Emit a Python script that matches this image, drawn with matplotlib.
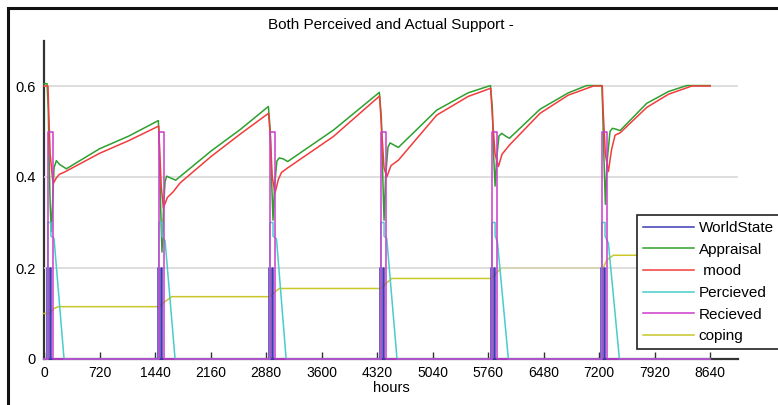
import matplotlib
matplotlib.use("Agg")
import matplotlib.pyplot as plt
from matplotlib.patches import Rectangle

# ---- series data (hours, value) ----
world_t = [0, 38, 38, 48, 48, 78, 78, 88, 88,
           1478, 1478, 1488, 1488, 1518, 1518, 1528, 1528,
           2918, 2918, 2928, 2928, 2958, 2958, 2968, 2968,
           4358, 4358, 4368, 4368, 4398, 4398, 4408, 4408,
           5798, 5798, 5808, 5808, 5838, 5838, 5848, 5848,
           7228, 7228, 7238, 7238, 7268, 7268, 7278, 7278, 8640]
world_v = [0, 0, 0.2, 0.2, 0, 0, 0.2, 0.2, 0,
           0, 0.2, 0.2, 0, 0, 0.2, 0.2, 0,
           0, 0.2, 0.2, 0, 0, 0.2, 0.2, 0,
           0, 0.2, 0.2, 0, 0, 0.2, 0.2, 0,
           0, 0.2, 0.2, 0, 0, 0.2, 0.2, 0,
           0, 0.2, 0.2, 0, 0, 0.2, 0.2, 0, 0]

appraisal_t = [0, 40, 55, 65, 80, 95, 110, 130, 160, 200, 290, 720, 1100, 1483,
               1495, 1510, 1530, 1550, 1570, 1591, 1640, 1708, 2166, 2550, 2910,
               2935, 2950, 2970, 2990, 3020, 3052, 3100, 3160, 3753, 4349,
               4375, 4390, 4410, 4430, 4460, 4488, 4540, 4596, 5093, 5500, 5790,
               5815, 5830, 5850, 5870, 5900, 5936, 5985, 6035, 6433, 6800, 7038, 7235,
               7245, 7260, 7280, 7300, 7340, 7371, 7420, 7471, 7817, 8100, 8336, 8640]
appraisal_v = [0.605, 0.605, 0.55, 0.45, 0.34, 0.28, 0.34, 0.42, 0.436, 0.428, 0.418, 0.462, 0.49, 0.524,
               0.47, 0.35, 0.235, 0.33, 0.39, 0.402, 0.398, 0.393, 0.457, 0.505, 0.555,
               0.50, 0.40, 0.305, 0.38, 0.435, 0.442, 0.44, 0.434, 0.503, 0.586,
               0.53, 0.42, 0.305, 0.40, 0.465, 0.475, 0.47, 0.465, 0.547, 0.585, 0.601,
               0.55, 0.45, 0.38, 0.44, 0.49, 0.496, 0.49, 0.485, 0.549, 0.585, 0.601, 0.601,
               0.55, 0.45, 0.34, 0.43, 0.50, 0.507, 0.505, 0.502, 0.562, 0.588, 0.601, 0.601]

mood_t = [0, 52, 60, 80, 117, 160, 200, 268, 720, 1100, 1488,
          1500, 1520, 1548, 1600, 1673, 1765, 2166, 2550, 2912,
          2935, 2960, 2996, 3040, 3080, 3160, 3753, 4352,
          4380, 4410, 4445, 4500, 4596, 5093, 5500, 5792,
          5820, 5850, 5893, 5940, 6035, 6433, 6800, 7125, 7240,
          7250, 7280, 7319, 7360, 7406, 7471, 7817, 8100, 8401, 8640]
mood_v = [0.60, 0.60, 0.55, 0.45, 0.385, 0.398, 0.406, 0.411, 0.452, 0.48, 0.512,
          0.46, 0.38, 0.332, 0.355, 0.367, 0.387, 0.445, 0.495, 0.54,
          0.49, 0.40, 0.365, 0.395, 0.41, 0.42, 0.489, 0.578,
          0.50, 0.42, 0.40, 0.425, 0.437, 0.536, 0.577, 0.595,
          0.52, 0.45, 0.423, 0.45, 0.47, 0.54, 0.58, 0.600, 0.600,
          0.55, 0.45, 0.412, 0.46, 0.492, 0.497, 0.553, 0.582, 0.600, 0.600]

perceived_t = [0, 48, 48, 90, 90, 130, 260,
               1488, 1488, 1530, 1530, 1570, 1700,
               2928, 2928, 2970, 2970, 3015, 3140,
               4368, 4368, 4410, 4410, 4445, 4578,
               5808, 5808, 5850, 5850, 5880, 6022,
               7232, 7232, 7276, 7276, 7319, 7462, 8640]
perceived_v = [0, 0, 0.3, 0.3, 0.27, 0.265, 0,
               0, 0.3, 0.3, 0.27, 0.26, 0,
               0, 0.3, 0.3, 0.27, 0.264, 0,
               0, 0.3, 0.3, 0.27, 0.265, 0,
               0, 0.3, 0.3, 0.27, 0.258, 0,
               0, 0.3, 0.3, 0.27, 0.255, 0, 0]

received_t = [0, 50, 50, 117, 117,
              1490, 1490, 1556, 1556,
              2930, 2930, 2992, 2992,
              4370, 4370, 4432, 4432,
              5810, 5810, 5872, 5872,
              7240, 7240, 7302, 7302, 8640]
received_v = [0, 0, 0.5, 0.5, 0,
              0, 0.5, 0.5, 0,
              0, 0.5, 0.5, 0,
              0, 0.5, 0.5, 0,
              0, 0.5, 0.5, 0,
              0, 0.5, 0.5, 0, 0]

coping_t = [0, 74, 120, 182, 1496, 1560, 1656, 2940, 2990, 3052,
            4380, 4440, 4510, 5806, 5870, 5936, 7250, 7300, 7384, 8640]
coping_v = [0.100, 0.100, 0.110, 0.115, 0.115, 0.125, 0.137, 0.137, 0.147, 0.155,
            0.155, 0.167, 0.177, 0.177, 0.190, 0.200, 0.200, 0.218, 0.228, 0.228]

x_ticks = [0, 720, 1440, 2160, 2880, 3600, 4320, 5040, 5760, 6480, 7200, 7920, 8640]
y_ticks = [0, 0.2, 0.4, 0.6]
y_tick_labels = ["0", "0.2", "0.4", "0.6"]
grid_levels = [0.2, 0.4, 0.6]

series = [
    (world_t, world_v, "WorldState", "#3c3cb4"),
    (appraisal_t, appraisal_v, "Appraisal", "#2ea02e"),
    (mood_t, mood_v, " mood", "#f23c3c"),
    (perceived_t, perceived_v, "Percieved", "#48cccc"),
    (received_t, received_v, "Recieved", "#cc3ccc"),
    (coping_t, coping_v, "coping", "#c8c828"),
]

W, H = 778, 405
fig = plt.figure(figsize=(W / 100, H / 100), dpi=100)
fig.patch.set_facecolor("white")

# outer frame of the figure window (left and top edges visible)
fig.add_artist(Rectangle((8 / W, -0.05), 2.0, (H - 8) / H + 0.05,
                         transform=fig.transFigure, fill=False,
                         edgecolor="#111111", linewidth=2.2))

ax = fig.add_axes([44 / W, 1 - 359 / H, (738 - 44) / W, (359 - 40.5) / H])
ax.set_xlim(0, 9000)
ax.set_ylim(0, 0.7)

label_font = ["Liberation Sans", "DejaVu Sans"]

for lvl in grid_levels:
    ax.axhline(lvl, color="#d4d4d4", linewidth=1.1, zorder=2.9)

handles = []
for t, v, name, col in series:
    z = 2.8 if name == "coping" else 3.0
    ln, = ax.plot(t, v, color=col, linewidth=1.1, label=name, zorder=z, clip_on=False)
    handles.append(ln)

for side in ("top", "right"):
    ax.spines[side].set_visible(False)
for side in ("left", "bottom"):
    ax.spines[side].set_color("#333333")
    ax.spines[side].set_linewidth(1.6)

ax.set_xticks(x_ticks)
ax.set_xticklabels([str(x) for x in x_ticks], fontfamily=label_font, fontsize=10)
ax.set_yticks(y_ticks)
ax.set_yticklabels(y_tick_labels, fontfamily=label_font, fontsize=10.5)
ax.tick_params(axis="x", direction="in", length=5, width=1, color="#333333", pad=5)
ax.tick_params(axis="y", direction="in", length=0, pad=6)

ax.set_xlabel("hours", fontfamily=label_font, fontsize=10.5, labelpad=1)
ax.set_title("Both Perceived and Actual Support -", fontfamily=label_font,
             fontsize=11, pad=8)

leg = ax.legend(handles=handles, loc="upper left",
                bbox_to_anchor=(637 / W, 1 - 215 / H), bbox_transform=fig.transFigure,
                borderaxespad=0, frameon=True, fancybox=False, shadow=False,
                prop={"family": label_font, "size": 11},
                handlelength=3.3, handletextpad=0.33, labelspacing=0.5,
                borderpad=0.4)
leg.get_frame().set_edgecolor("#222222")
leg.get_frame().set_linewidth(1.2)
leg.get_frame().set_alpha(1)
leg.set_zorder(10)

fig.savefig("out.png", dpi=100, facecolor="white")
